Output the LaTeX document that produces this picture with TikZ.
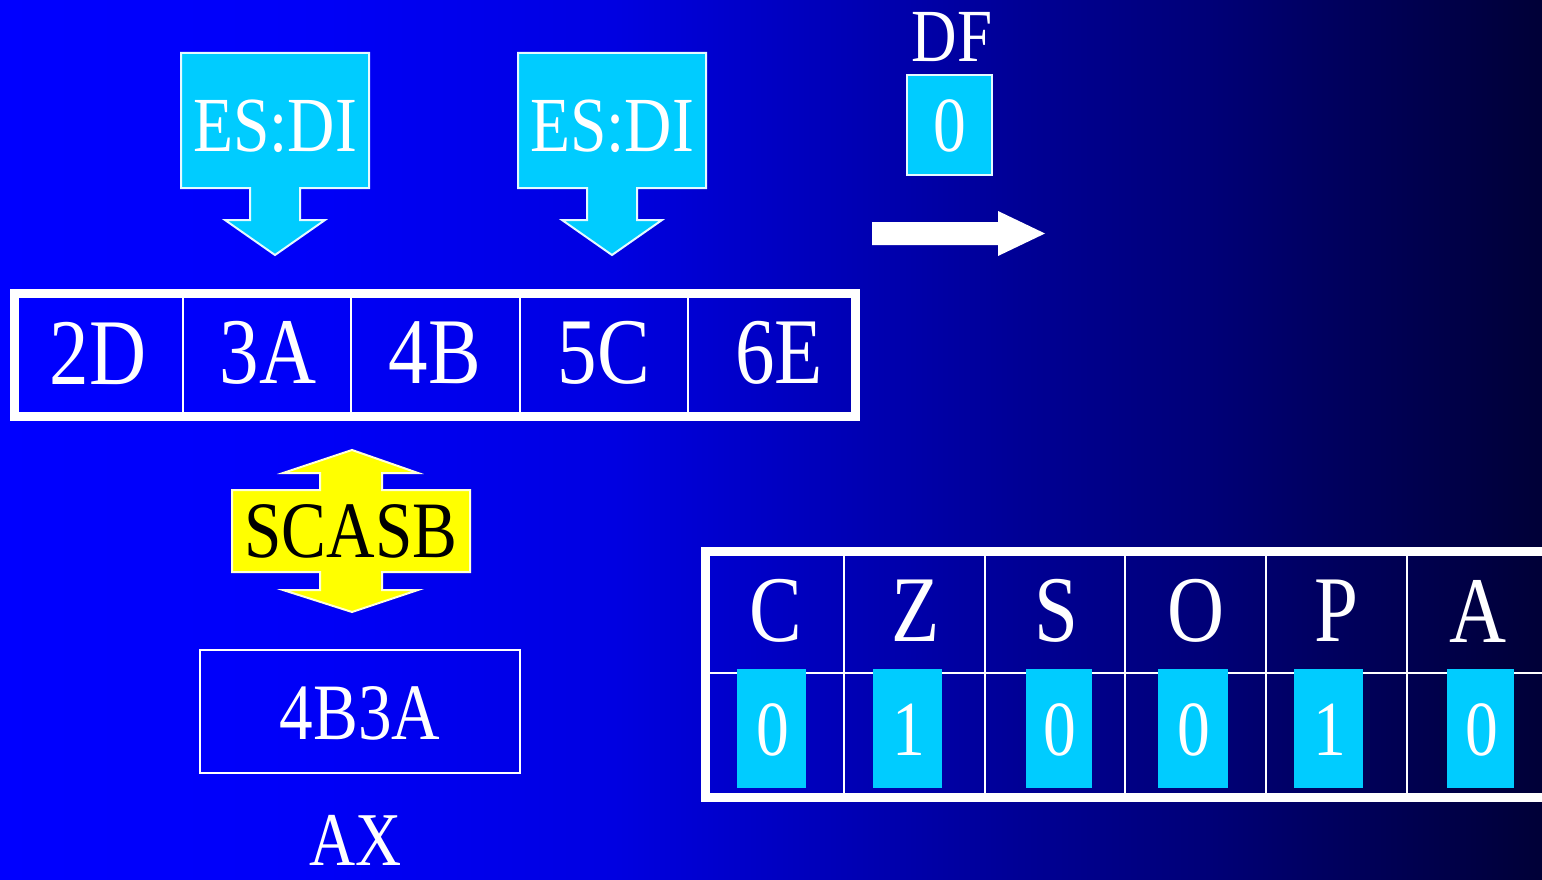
\documentclass[tikz,border=0pt]{standalone}
\usepackage{fontspec}
\newfontfamily\cond[FakeStretch=0.84]{Liberation Serif}
\definecolor{bgA}{RGB}{0,0,255}
\definecolor{bgB}{RGB}{0,0,248}
\definecolor{bgC}{RGB}{0,0,225}
\definecolor{bgD}{RGB}{0,0,150}
\definecolor{bgE}{RGB}{0,0,118}
\definecolor{bgF}{RGB}{0,0,98}
\definecolor{bgG}{RGB}{0,0,55}
\definecolor{cyanbox}{RGB}{0,204,255}
\definecolor{yel}{RGB}{255,255,0}
\pgfdeclarehorizontalshading{bgshade}{100bp}{color(0bp)=(bgA); color(25bp)=(bgA); color(34.7bp)=(bgB); color(44.9bp)=(bgC); color(57.9bp)=(bgD); color(64.4bp)=(bgE); color(67.6bp)=(bgF); color(75bp)=(bgG); color(100bp)=(bgG)}
\tikzset{
  txt/.style={inner sep=0pt, text=white, font=\cond\fontsize{#1}{#1}\selectfont},
  thinwhite/.style={draw=white, line width=1.8pt},
  thickwhite/.style={draw=white, line width=9pt},
  cyanshape/.style={fill=cyanbox, draw=white!90!cyanbox, line width=2pt, line join=miter},
  flagcell/.style={fill=cyanbox},
}
\begin{document}
\begin{tikzpicture}[x=1pt, y=-1pt]
\useasboundingbox (0,0) rectangle (1542,880);
\clip (0,0) rectangle (1542,880);
\shade[shading=bgshade] (0,0) rectangle (1542,880);

% pointer arrows for ES:DI
\foreach \dx/\nm in {0/p1, 337/p2} {
  \begin{scope}[xshift=\dx]
    \draw[cyanshape] (181,53) -- (369,53) -- (369,188) -- (300,188) -- (300,220)
      -- (325,220) -- (275,255) -- (225,220) -- (250,220) -- (250,188)
      -- (181,188) -- cycle;
    \node[txt=78] (\nm) at (275,126) {ES:DI};
  \end{scope}
}

% direction flag
\node[txt=75] (dflabel) at (952,37) {DF};
\draw[cyanshape] (907,75) rectangle (992,175);
\node[txt=78] (dfval) at (950,126) {0};
\fill[white] (872,222) -- (998,222) -- (998,211) -- (1045,233.5) -- (998,256)
  -- (998,245) -- (872,245) -- cycle;

% memory bytes
\draw[thickwhite] (14.5,293) rectangle (855.5,416);
\foreach \x in {183,351,520,688}
  \draw[thinwhite, line width=1.5pt] (\x,297) -- (\x,412);
\node[txt=94] (m1) at (98,353) {2D};
\node[txt=94] (m2) at (268,353) {3A};
\node[txt=94] (m3) at (435,353) {4B};
\node[txt=94] (m4) at (604,353) {5C};
\node[txt=94] (m5) at (779,353) {6E};

% compare instruction
\draw[fill=yel, draw=white!85!yel, line width=2pt, line join=miter]
  (352,450) -- (418,473) -- (382,473) -- (382,490) -- (470,490) -- (470,572)
  -- (382,572) -- (382,590) -- (418,590) -- (352,612) -- (283,590) -- (320,590)
  -- (320,572) -- (232,572) -- (232,490) -- (320,490) -- (320,473) -- (283,473)
  -- cycle;
\node[txt=80, text=black] (scasb) at (351,531) {SCASB};

% accumulator
\draw[thinwhite, line width=1.5pt] (200,650) rectangle (520,773);
\node[txt=80] (axval) at (360,713) {4B3A};
\node[txt=76] (axlabel) at (356,840) {AX};

% status flags
\draw[thickwhite] (705.5,551) rectangle (1600,797.5);
\draw[thinwhite, line width=1.5pt] (710,673) -- (1600,673);
\foreach \x in {844,985,1125,1266,1407}
  \draw[thinwhite, line width=1.5pt] (\x,555) -- (\x,793);
\foreach \a/\b/\lbl/\val/\nm in {737/806/C/0/c, 873/942/Z/1/z, 1026/1092/S/0/s,
                                 1158/1228/O/0/o, 1294/1363/P/1/p, 1447/1514/A/0/a} {
  \fill[flagcell] (\a,669) rectangle (\b,788);
  \node[txt=78] (v\nm) at ({(\a+\b)/2+1},730) {\val};
}
\node[txt=94] (fc) at (776,611) {C};
\node[txt=94] (fz) at (916,611) {Z};
\node[txt=94] (fs) at (1056,611) {S};
\node[txt=94] (fo) at (1196,611) {O};
\node[txt=94] (fp) at (1336,611) {P};
\node[txt=94] (fa) at (1478,611) {A};
\end{tikzpicture}
\end{document}
